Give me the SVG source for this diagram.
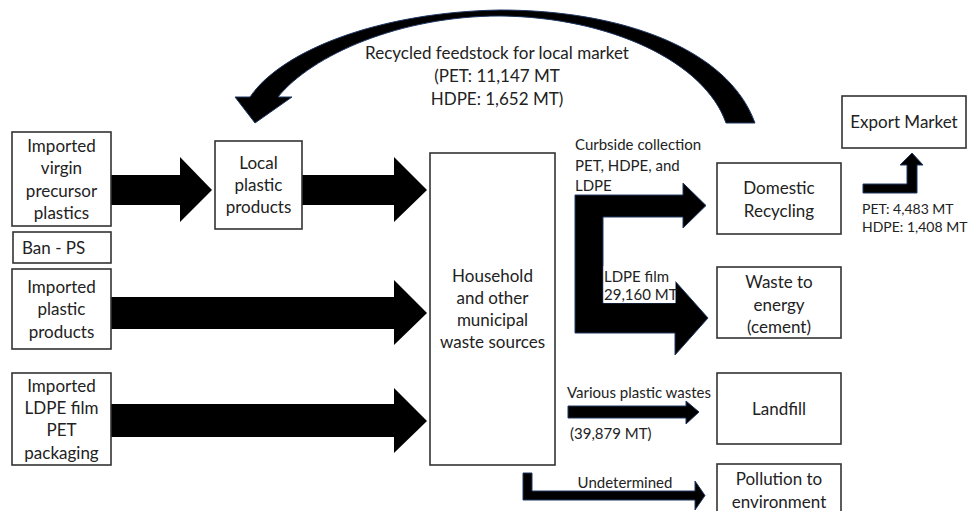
<svg xmlns="http://www.w3.org/2000/svg" width="970" height="511" viewBox="0 0 970 511">
<defs>
<style>
.box{fill:#fff;stroke:#333;stroke-width:1.6}
.t{font-family:Lato,"Liberation Sans",sans-serif;font-size:17px;fill:#222;text-anchor:middle}
.ts{font-family:Lato,"Liberation Sans",sans-serif;font-size:17px;fill:#222;text-anchor:start}
.l{font-family:Lato,"Liberation Sans",sans-serif;font-size:15px;fill:#222;text-anchor:start}
.lm{font-family:Lato,"Liberation Sans",sans-serif;font-size:15px;fill:#222;text-anchor:middle}
.e{font-family:Lato,"Liberation Sans",sans-serif;font-size:14px;fill:#222;text-anchor:start}
.arr{fill:#000}
.arrb{fill:#000;stroke:#1f3864;stroke-width:1}
</style>
</defs>
<rect width="970" height="511" fill="#fff"/>
<g id="connectors">
<path class="arrb" d="M250,97 C282,50 380,12 500,10 C620,10 728,48 755,123 L726,123 C705,62 610,17 500,16 C400,16 312,55 278,97 L292,97 L255,123 L235,97 Z"/>
<path class="arr" d="M111,175 L180,175 L180,157 L212,190 L180,222 L180,205 L111,205 Z"/>
<path class="arr" d="M302,175 L394,175 L394,157 L427,190 L394,222 L394,205 L302,205 Z"/>
<path class="arr" d="M111,297 L394,297 L394,280 L427,313 L394,345 L394,329 L111,329 Z"/>
<path class="arr" d="M111,404 L394,404 L394,388 L427,421 L394,453 L394,437 L111,437 Z"/>
<path class="arrb" d="M575,195 L683,195 L683,183 L706,205.5 L683,228 L683,217 L603,217 L603,303 L675,303 L675,281 L708,318 L675,355 L675,333 L575,333 Z"/>
<rect x="603.5" y="266" width="72" height="37" fill="#fff"/>
<path class="arrb" d="M568,406 L686,406 L686,401 L699,412 L686,424 L686,418 L568,418 Z"/>
<path class="arrb" d="M523,473 L532,473 L532,491 L695,491 L695,481 L705,495.5 L695,510 L695,500 L523,500 Z"/>
<path class="arrb" d="M863,184 L907,184 L907,165 L900,165 L912,153 L923,165 L917,165 L917,193 L863,193 Z"/>
<text class="t" x="497" y="53" dy="0.35em">Recycled feedstock for local market</text>
<text class="t" x="497" y="76" dy="0.35em">(PET: 11,147 MT</text>
<text class="t" x="497" y="99" dy="0.35em">HDPE: 1,652 MT)</text>
<text class="l" x="575" y="145" dy="0.35em">Curbside collection</text>
<text class="l" x="575" y="166" dy="0.35em">PET, HDPE, and</text>
<text class="l" x="575" y="186" dy="0.35em">LDPE</text>
<text class="l" x="604" y="277" dy="0.35em">LDPE film</text>
<text class="l" x="604" y="295" dy="0.35em">29,160 MT</text>
<text class="l" x="567" y="393" dy="0.35em">Various plastic wastes</text>
<text class="l" x="570" y="434" dy="0.35em">(39,879 MT)</text>
<text class="lm" x="625" y="483" dy="0.35em">Undetermined</text>
<text class="e" x="862" y="209" dy="0.35em">PET: 4,483 MT</text>
<text class="e" x="862" y="227" dy="0.35em">HDPE: 1,408 MT</text>
</g>
<g id="virgin">
<rect class="box" x="12" y="132" width="99" height="94"/>
<text class="t" x="61.5" y="146" dy="0.35em">Imported</text>
<text class="t" x="61.5" y="168" dy="0.35em">virgin</text>
<text class="t" x="61.5" y="191" dy="0.35em">precursor</text>
<text class="t" x="61.5" y="213" dy="0.35em">plastics</text>
</g>
<g id="banps">
<rect class="box" x="13" y="232" width="98" height="31"/>
<text class="ts" x="22" y="248" dy="0.35em">Ban - PS</text>
</g>
<g id="importedproducts">
<rect class="box" x="12" y="269" width="99" height="80"/>
<text class="t" x="61.5" y="287" dy="0.35em">Imported</text>
<text class="t" x="61.5" y="309" dy="0.35em">plastic</text>
<text class="t" x="61.5" y="332" dy="0.35em">products</text>
</g>
<g id="importedldpe">
<rect class="box" x="12" y="373" width="99" height="92"/>
<text class="t" x="61.5" y="386" dy="0.35em">Imported</text>
<text class="t" x="61.5" y="408" dy="0.35em">LDPE film</text>
<text class="t" x="61.5" y="430" dy="0.35em">PET</text>
<text class="t" x="61.5" y="453" dy="0.35em">packaging</text>
</g>
<g id="local">
<rect class="box" x="215" y="141" width="87" height="88"/>
<text class="t" x="258.5" y="163" dy="0.35em">Local</text>
<text class="t" x="258.5" y="185" dy="0.35em">plastic</text>
<text class="t" x="258.5" y="207" dy="0.35em">products</text>
</g>
<g id="household">
<rect class="box" x="430" y="153" width="125" height="312"/>
<text class="t" x="492.5" y="276" dy="0.35em">Household</text>
<text class="t" x="492.5" y="298" dy="0.35em">and other</text>
<text class="t" x="492.5" y="320" dy="0.35em">municipal</text>
<text class="t" x="492.5" y="342" dy="0.35em">waste sources</text>
</g>
<g id="domestic">
<rect class="box" x="717" y="163" width="124" height="71"/>
<text class="t" x="779" y="188" dy="0.35em">Domestic</text>
<text class="t" x="779" y="211" dy="0.35em">Recycling</text>
</g>
<g id="wte">
<rect class="box" x="717" y="267" width="124" height="71"/>
<text class="t" x="779" y="282" dy="0.35em">Waste to</text>
<text class="t" x="779" y="305" dy="0.35em">energy</text>
<text class="t" x="779" y="327" dy="0.35em">(cement)</text>
</g>
<g id="landfill">
<rect class="box" x="717" y="373" width="124" height="71"/>
<text class="t" x="779" y="409" dy="0.35em">Landfill</text>
</g>
<g id="pollution">
<rect class="box" x="717" y="464" width="124" height="52"/>
<text class="t" x="779" y="479" dy="0.35em">Pollution to</text>
<text class="t" x="779" y="502" dy="0.35em">environment</text>
</g>
<g id="export">
<rect class="box" x="842" y="96" width="124" height="52"/>
<text class="t" x="904" y="122" dy="0.35em">Export Market</text>
</g>
</svg>
